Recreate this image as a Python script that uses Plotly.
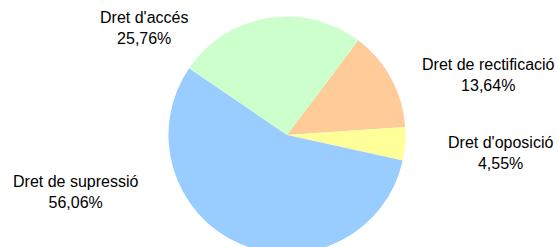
import plotly.graph_objects as go

labels = ["Dret de rectificació", "Dret d'oposició", "Dret de supressió", "Dret d'accés"]
counts = [9, 3, 37, 17]
colors = ["#FFCC99", "#FFFF99", "#99CCFF", "#CCFFCC"]

# label centres in pixels (x from left, y from top)
label_pos = [(488, 75), (500, 153), (75, 192), (144, 28)]

W, H = 558, 260
cx, cy, r = 287, 135, 118.5

fig = go.Figure(go.Pie(
    labels=labels, values=counts, sort=False, direction="clockwise",
    rotation=37, marker=dict(colors=colors, line=dict(width=0)),
    textinfo="none", hoverinfo="label+percent", showlegend=False,
    domain=dict(x=[(cx - r) / W, (cx + r) / W], y=[(H - cy - r) / H, (H - cy + r) / H]),
))

total = sum(counts)
for lab, v, (px, py) in zip(labels, counts, label_pos):
    pct = f"{100 * v / total:.2f}".replace(".", ",") + "%"
    fig.add_annotation(text=f"{lab}<br>{pct}", x=px / W, y=(H - py) / H,
                       xref="paper", yref="paper", xanchor="center", yanchor="middle",
                       showarrow=False, align="center",
                       font=dict(family="Liberation Sans, Arial, sans-serif", size=16, color="black"))

fig.update_layout(width=W, height=H, margin=dict(l=0, r=0, t=0, b=0),
                  paper_bgcolor="white", plot_bgcolor="white")

fig.write_html("out.html", config={"displayModeBar": False},
               post_script="document.body.style.margin='0';document.body.style.overflow='hidden';document.documentElement.style.overflow='hidden';")
